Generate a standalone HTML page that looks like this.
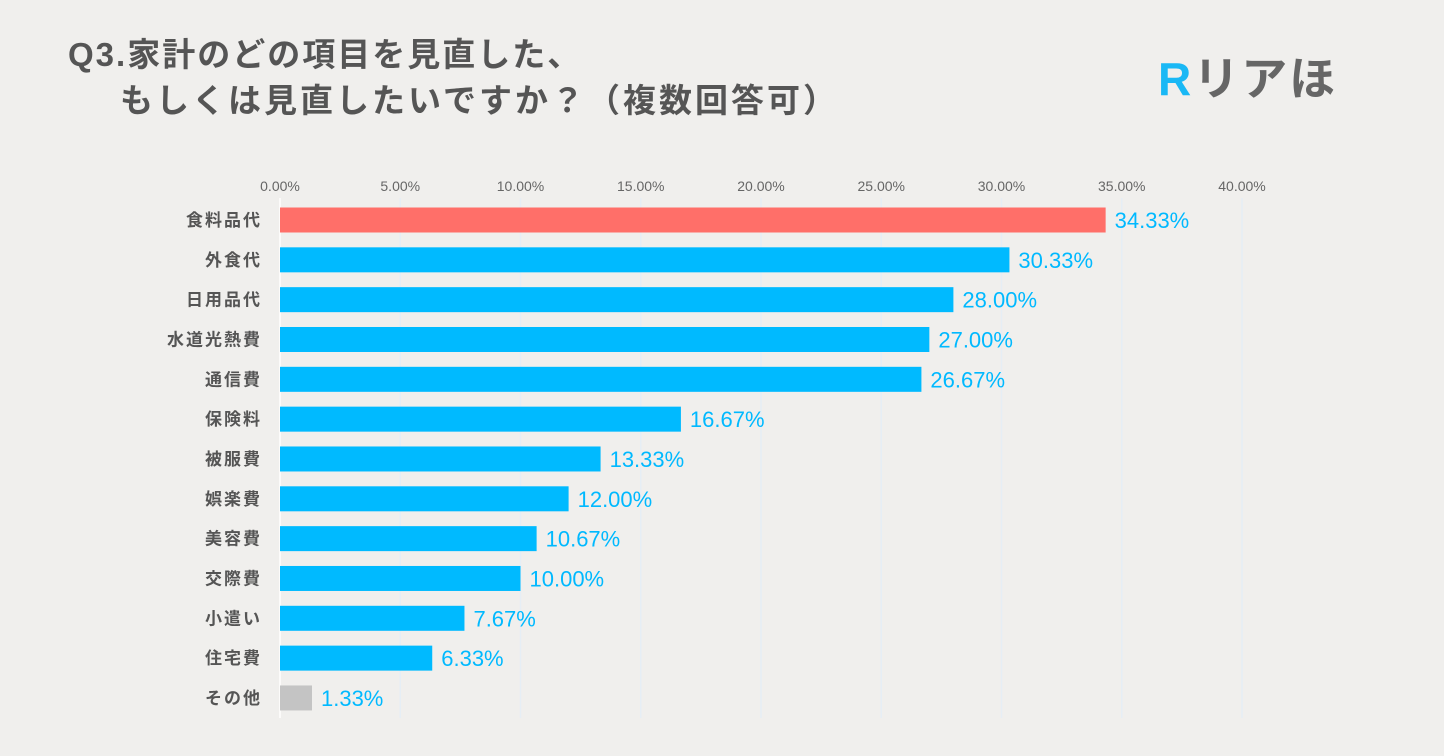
<!DOCTYPE html>
<html><head><meta charset="utf-8"><style>
body{margin:0;width:1444px;height:756px;background:#f0efed;overflow:hidden;font-family:"Liberation Sans","Noto Sans CJK JP",sans-serif}
.t{position:absolute;font-weight:bold;font-size:33px;color:#555;white-space:nowrap}
</style></head><body>
<div class="t" style="left:68px;top:28px;letter-spacing:2px">Q3.家計のどの項目を見直した、</div>
<div class="t" style="left:120px;top:74px;letter-spacing:3px">もしくは見直したいですか？（複数回答可）</div>
<div style="position:absolute;left:1158px;top:56px;font-weight:bold;font-size:46px;white-space:nowrap;line-height:1;letter-spacing:2px"><span style="color:#1ab8f5">R</span><span style="color:#666">リアほ</span></div>
<svg id="c" width="1444" height="756" style="position:absolute;left:0;top:0"></svg>
<script>
const categories=["食料品代","外食代","日用品代","水道光熱費","通信費","保険料","被服費","娯楽費","美容費","交際費","小遣い","住宅費","その他"];
const values=[34.33,30.33,28.00,27.00,26.67,16.67,13.33,12.00,10.67,10.00,7.67,6.33,1.33];
const ticks=[0,5,10,15,20,25,30,35,40];
const colors=["#ff6f69","#00baff","#00baff","#00baff","#00baff","#00baff","#00baff","#00baff","#00baff","#00baff","#00baff","#00baff","#c4c4c4"];
const svg=document.getElementById('c');const NS='http://www.w3.org/2000/svg';
const x=v=>280+v*(1242-280)/40;
const y=i=>220+i*39.83;
function mk(t,a,txt){const e=document.createElementNS(NS,t);for(const k in a)e.setAttribute(k,a[k]);if(txt!=null)e.textContent=txt;svg.appendChild(e);return e;}
ticks.forEach(t=>{
 const g=mk('line',{x1:x(t),x2:x(t),y1:198,y2:718,stroke:t===0?'#ffffff':'#e6eef5','stroke-width':1.5});
 
 
 const l=mk('text',{x:x(t),y:191,'text-anchor':'middle','font-size':14,fill:'#666'},t.toFixed(2)+'%');
 
 
});
categories.forEach((c,i)=>{
 const r=mk('rect',{x:x(0),y:y(i)-12.5,width:x(values[i])-x(0),height:25,fill:colors[i]});
 
 
 const cl=mk('text',{x:262,y:y(i)+6,'text-anchor':'end','font-size':17,'font-weight':'bold',fill:'#555','letter-spacing':2},c);
 
 
 const vl=mk('text',{x:x(values[i])+9,y:y(i)+8,'font-size':22,fill:'#00b9ff'},values[i].toFixed(2)+'%');
 
 
});
</script>
</body></html>
